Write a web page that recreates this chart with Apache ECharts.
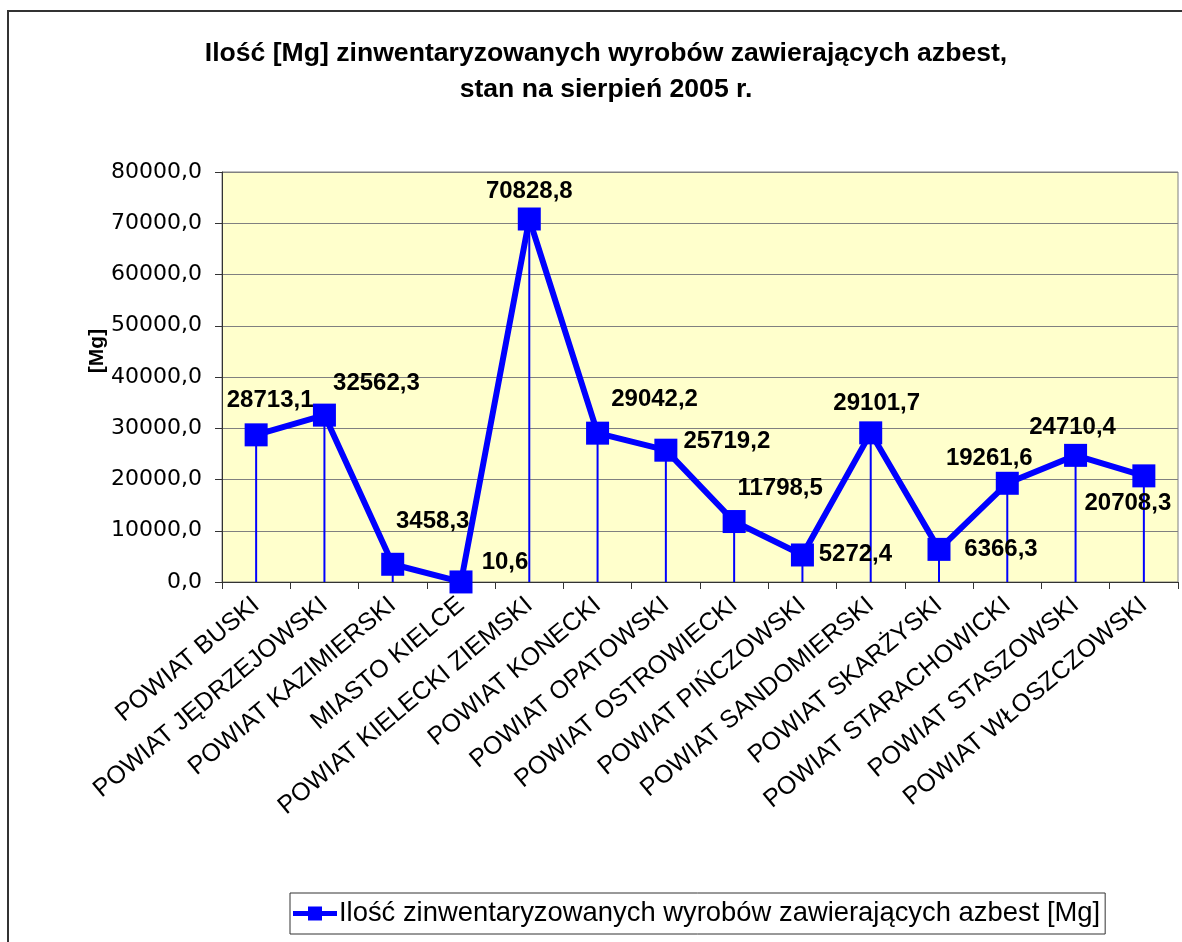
<!DOCTYPE html>
<html>
<head>
<meta charset="utf-8">
<script src="https://cdn.jsdelivr.net/npm/echarts@6/dist/echarts.min.js"></script>
<style>
  html, body { margin: 0; padding: 0; background: #fff; }
  #chart { width: 1182px; height: 942px; }
</style>
</head>
<body>
<div id="chart"></div>
<script>
// Asbestos-containing products inventoried per county, August 2005
const categories = [
  'POWIAT BUSKI', 'POWIAT JĘDRZEJOWSKI', 'POWIAT KAZIMIERSKI', 'MIASTO KIELCE',
  'POWIAT KIELECKI ZIEMSKI', 'POWIAT KONECKI', 'POWIAT OPATOWSKI', 'POWIAT OSTROWIECKI',
  'POWIAT PIŃCZOWSKI', 'POWIAT SANDOMIERSKI', 'POWIAT SKARŻYSKI', 'POWIAT STARACHOWICKI',
  'POWIAT STASZOWSKI', 'POWIAT WŁOSZCZOWSKI'
];
const values = [
  28713.1, 32562.3, 3458.3, 10.6, 70828.8, 29042.2, 25719.2,
  11798.5, 5272.4, 29101.7, 6366.3, 19261.6, 24710.4, 20708.3
];
const yTicks = { min: 0, max: 80000, interval: 10000 };

const seriesName = 'Ilość zinwentaryzowanych wyrobów zawierających azbest [Mg]';
const titleText = 'Ilość [Mg] zinwentaryzowanych wyrobów zawierających azbest,\nstan na sierpień 2005 r.';
const axisName = '[Mg]';

// Where each value label sits relative to its marker (px)
const labelOffsets = [
  [14, -34], [52, -32], [40, -43], [44, -20], [0, -28], [57, -34], [61, -9],
  [46, -33], [53, -1], [6, -29], [62, 0], [-18, -25], [-3, -28], [-16, 28]
];

const fmt = v => v.toFixed(1).replace('.', ',');
const BLUE = '#0000FF';
const SANS = '"Liberation Sans", Arial, sans-serif';
const WIDE = '"DejaVu Sans", Verdana, sans-serif';

// legend key: thick line with a square marker in the middle
const legendIcon = 'path://M0,5.5 L44,5.5 L44,10.5 L0,10.5 Z M15,1 L29,1 L29,15 L15,15 Z';

const chart = echarts.init(document.getElementById('chart'), null, { renderer: 'canvas' });

chart.setOption({
  backgroundColor: '#ffffff',
  animation: false,
  textStyle: { fontFamily: SANS },
  title: {
    text: titleText,
    left: 601,
    textAlign: 'center',
    top: 31,
    textStyle: {
      fontFamily: SANS, fontSize: 26.6, fontWeight: 'bold', color: '#000', lineHeight: 36
    }
  },
  graphic: [
    {
      type: 'rect', silent: true, z: -1,
      shape: { x: 8, y: 11, width: 1190, height: 950 },
      style: { fill: null, stroke: '#333', lineWidth: 2 }
    },
    {
      type: 'text', silent: true,
      x: 97, y: 351, rotation: Math.PI / 2,
      style: {
        text: axisName, fill: '#000', align: 'center', verticalAlign: 'middle',
        font: 'bold 21px ' + SANS
      }
    }
  ],
  legend: {
    data: [{ name: seriesName, icon: legendIcon }],
    left: 290, top: 893,
    orient: 'horizontal',
    padding: [7, 5, 7, 3],
    itemWidth: 44, itemHeight: 16, itemGap: 0,
    itemStyle: { color: BLUE },
    borderColor: '#333', borderWidth: 1,
    backgroundColor: '#fff',
    textStyle: { fontSize: 27.4, color: '#000', fontFamily: SANS, padding: [0, 0, 0, -3] }
  },
  grid: {
    left: 222, right: 4, top: 172, bottom: 360,
    show: true, backgroundColor: '#FFFFCC', borderColor: '#808080', borderWidth: 1,
    containLabel: false
  },
  xAxis: {
    type: 'category',
    data: categories,
    boundaryGap: true,
    axisLine: { lineStyle: { color: '#333', width: 1 } },
    axisTick: { show: true, length: 7, lineStyle: { color: '#333' } },
    axisLabel: {
      interval: 0, rotate: 40, margin: 20,
      fontSize: 25, color: '#000', fontFamily: SANS
    },
    splitLine: { show: false }
  },
  yAxis: {
    type: 'value',
    min: yTicks.min, max: yTicks.max, interval: yTicks.interval,
    axisLine: { show: true, lineStyle: { color: '#333', width: 1 } },
    axisTick: { show: true, length: 7, lineStyle: { color: '#333' } },
    axisLabel: {
      formatter: fmt, margin: 20, fontSize: 22, color: '#000', fontFamily: WIDE
    },
    splitLine: { show: true, lineStyle: { color: '#808080', width: 1 } }
  },
  series: [
    {
      // thin drop lines from each point down to the axis
      name: 'drop',
      type: 'bar',
      data: values,
      barWidth: 2,
      itemStyle: { color: BLUE },
      silent: true,
      z: 1
    },
    {
      name: seriesName,
      type: 'line',
      data: values.map((v, i) => ({
        value: v,
        label: { offset: labelOffsets[i] }
      })),
      symbol: 'rect',
      symbolSize: 23,
      lineStyle: { color: BLUE, width: 6 },
      itemStyle: { color: BLUE },
      z: 3,
      label: {
        show: true,
        position: 'inside',
        formatter: p => fmt(p.value),
        fontSize: 24, fontWeight: 'bold', color: '#000', fontFamily: SANS
      }
    }
  ]
});
</script>
</body>
</html>
